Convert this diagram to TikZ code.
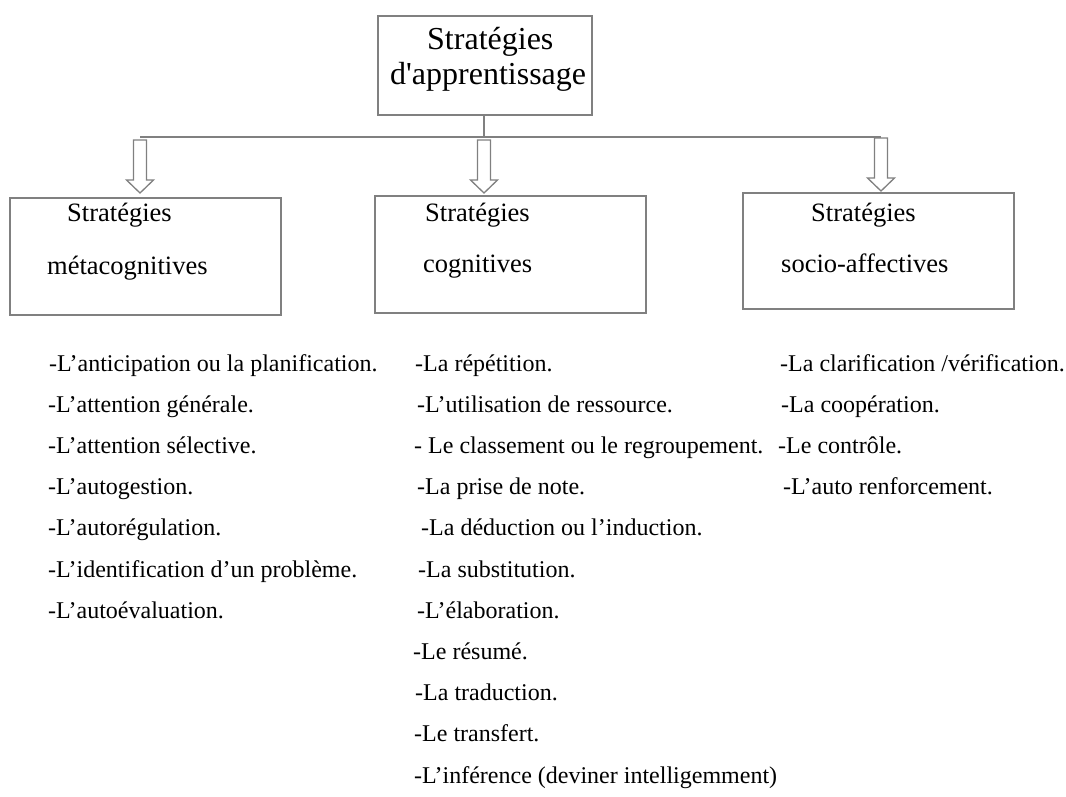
\documentclass[tikz,border=0pt]{standalone}
\usepackage{fontspec}
\setmainfont{Liberation Serif}
\usetikzlibrary{positioning,calc}

\begin{document}
\begin{tikzpicture}[x=1pt,y=-1pt,
  box/.style={draw=gray,line width=1.3pt,minimum width=271pt,minimum height=117pt,inner sep=0pt},
  link/.style={draw=gray,line width=1.3pt},
  hollow/.style={draw=gray,line width=1.3pt,fill=white,line join=miter},
  title/.style={anchor=base west,inner sep=0pt,font=\fontsize{32}{35}\selectfont},
  head/.style={anchor=base west,inner sep=0pt,font=\fontsize{26.5}{30}\selectfont},
  item/.style={anchor=base west,inner sep=0pt,font=\fontsize{24}{28}\selectfont}]
\useasboundingbox (0,0) rectangle (1066,796);

% main box
\node[box,minimum width=214pt,minimum height=99pt] (top) at (485,65.5) {};
\node[title] (t1) at (427,49) {Stratégies};
\node[title] (t2) at (390,84) {d\textquotesingle apprentissage};

% the three families
\node[box] (meta) at (145.5,256.5) {};
\node[box] (cogn) at (510.5,254.5) {};
\node[box,minimum height=116pt] (socio) at (878.5,251) {};
\node[head] (m1) at (67,221) {Stratégies};
\node[head] (m2) at (47,274) {métacognitives};
\node[head] (c1) at (425,221) {Stratégies};
\node[head] (c2) at (423,272) {cognitives};
\node[head] (s1) at (811,221) {Stratégies};
\node[head] (s2) at (781,272) {socio-affectives};

% connectors
\coordinate (b1) at (140,137);
\coordinate (b3) at (881,137);
\coordinate (a1) at (140,193);
\coordinate (a2) at (484,193);
\coordinate (a3) at (881,191);
\draw[link] (top.south -| a2) -- (a2 |- b1);
\draw[link] (b1) -- (b3);
\draw[hollow] (a1) -- ++(-13.5,-13) -- ++(7,0) -- ++(0,-40) -- ++(13,0) -- ++(0,40) -- ++(7,0) -- cycle;
\draw[hollow] (a2) -- ++(-13.5,-13) -- ++(7,0) -- ++(0,-40) -- ++(13,0) -- ++(0,40) -- ++(7,0) -- cycle;
\draw[hollow] (a3) -- ++(-13.5,-13) -- ++(7,0) -- ++(0,-40) -- ++(13,0) -- ++(0,40) -- ++(7,0) -- cycle;

% metacognitive list
\node[item] (ma) at (49,371) {-L’anticipation ou la planification.};
\node[item] (mb) at (48,412.2) {-L’attention générale.};
\node[item] (mc) at (48,453.4) {-L’attention sélective.};
\node[item] (md) at (48,494.6) {-L’autogestion.};
\node[item] (me) at (48,535.8) {-L’autorégulation.};
\node[item] (mf) at (48,577) {-L’identification d’un problème.};
\node[item] (mg) at (48,618.2) {-L’autoévaluation.};

% cognitive list
\node[item] (ca) at (415,371) {-La répétition.};
\node[item] (cb) at (417,412.2) {-L’utilisation de ressource.};
\node[item] (cc) at (414,453.4) {- Le classement ou le regroupement.};
\node[item] (cd) at (417,494.6) {-La prise de note.};
\node[item] (ce) at (421,535.8) {-La déduction ou l’induction.};
\node[item] (cf) at (418,577) {-La substitution.};
\node[item] (cg) at (417,618.2) {-L’élaboration.};
\node[item] (ch) at (413,659.4) {-Le résumé.};
\node[item] (ci) at (415,700.6) {-La traduction.};
\node[item] (cj) at (414,741.8) {-Le transfert.};
\node[item] (ck) at (414,783) {-L’inférence (deviner intelligemment)};

% socio-affective list
\node[item] (sa) at (780,371) {-La clarification /vérification.};
\node[item] (sb) at (781,412.2) {-La coopération.};
\node[item] (sc) at (778,453.4) {-Le contrôle.};
\node[item] (sd) at (783,494.6) {-L’auto renforcement.};
\end{tikzpicture}
\end{document}
